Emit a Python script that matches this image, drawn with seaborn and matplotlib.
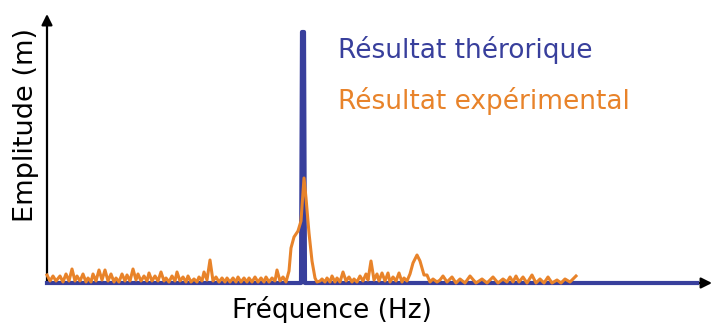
import numpy as np
import seaborn as sns
import matplotlib.pyplot as plt

# Data (frequency in arbitrary units, amplitude in arbitrary units)
theory_freq = [0, 254, 255, 257, 258, 650]
theory_amp = [0, 0, 251, 251, 0, 0]

exp_freq = [0, 3, 6, 9, 13, 16, 19, 22, 25, 28, 30, 33, 36, 39, 41, 44, 46, 49, 52, 55,
            58, 61, 64, 67, 69, 72, 75, 78, 80, 83, 86, 89, 91, 94, 97, 100, 102, 105, 108, 111,
            114, 117, 119, 122, 125, 128, 130, 133, 136, 139, 141, 144, 147, 150, 152, 155, 157, 160, 163, 166,
            169, 172, 175, 178, 180, 183, 186, 189, 191, 194, 197, 200, 202, 205, 208, 211, 214, 217, 219, 222,
            225, 228, 230, 233, 236, 239, 242, 244, 247, 251, 254, 257, 259, 262, 265, 268, 270, 273, 275, 278,
            280, 283, 285, 288, 290, 293, 296, 299, 302, 305, 307, 310, 313, 316, 319, 321, 324, 327, 330, 332,
            335, 338, 341, 343, 346, 349, 352, 355, 357, 360, 363, 366, 370, 373, 377, 380, 383, 386, 390, 393,
            396, 400, 405, 409, 413, 418, 423, 429, 435, 440, 446, 451, 456, 460, 463, 466, 469, 472, 476, 480,
            485, 489, 493, 497, 501, 505, 510, 514, 518, 523, 529]
exp_amp = [8, 2, 7, 2, 7, 1, 9, 2, 14, 2, 7, 2, 9, 1, 5, 1, 9, 2, 13, 3,
           13, 2, 9, 1, 5, 1, 9, 2, 8, 2, 14, 3, 9, 2, 7, 2, 10, 2, 7, 2,
           11, 2, 5, 1, 7, 2, 11, 2, 6, 1, 7, 1, 4, 1, 6, 2, 11, 3, 23, 2,
           6, 1, 5, 1, 5, 1, 5, 1, 6, 1, 5, 1, 5, 1, 6, 1, 5, 1, 6, 1,
           5, 2, 13, 2, 6, 1, 12, 35, 46, 52, 62, 105, 85, 50, 22, 5, 1, 2, 4, 1,
           5, 1, 7, 1, 5, 1, 11, 2, 6, 1, 4, 1, 7, 2, 9, 3, 22, 3, 9, 2,
           10, 2, 10, 1, 6, 2, 10, 1, 5, 2, 9, 20, 28, 22, 8, 8, 1, 4, 1, 3,
           7, 1, 6, 0, 4, 0, 7, 0, 4, 0, 6, 0, 4, 1, 6, 1, 7, 1, 6, 0,
           8, 0, 4, 0, 6, 0, 3, 0, 4, 1, 7]

blue = '#383f9c'
orange = '#e8832a'

fig = plt.figure(figsize=(7.13, 3.23), dpi=100)
ax = fig.add_axes([47 / 713, 40 / 323, 665 / 713, 269 / 323])

sns.lineplot(x=theory_freq, y=theory_amp, color=blue, linewidth=3.0,
             estimator=None, sort=False, ax=ax, zorder=3)
sns.lineplot(x=exp_freq, y=exp_amp, color=orange, linewidth=2.2,
             estimator=None, sort=False, ax=ax, zorder=4)
for line in ax.lines:
    line.set_clip_on(False)

ax.set_xlim(0, 665)
ax.set_ylim(0, 269)
ax.set_xticks([])
ax.set_yticks([])
for s in ax.spines.values():
    s.set_visible(False)
ax.set_xlabel('')
ax.set_ylabel('')

# axes drawn as arrows
ax.annotate('', xy=(1, 0), xytext=(0, 0), xycoords='axes fraction',
            arrowprops=dict(arrowstyle='-|>', color='black', lw=1.6, mutation_scale=16,
                            shrinkA=0, shrinkB=0), zorder=1)
ax.annotate('', xy=(0, 1), xytext=(0, 0), xycoords='axes fraction',
            arrowprops=dict(arrowstyle='-|>', color='black', lw=1.6, mutation_scale=16,
                            shrinkA=0, shrinkB=0), zorder=1)

fig.text(338 / 713, 1 - 58 / 323, 'Résultat thérorique', color=blue, fontsize=19,
         ha='left', va='baseline')
fig.text(338 / 713, 1 - 109 / 323, 'Résultat expérimental', color=orange, fontsize=19,
         ha='left', va='baseline')
fig.text(332 / 713, 1 - 310 / 323, 'Fréquence (Hz)', color='black', fontsize=19,
         ha='center', va='center')
fig.text(26 / 713, 1 - 125 / 323, 'Emplitude (m)', color='black', fontsize=19.5,
         ha='center', va='center', rotation=90)

fig.savefig('out.png', dpi=100)
